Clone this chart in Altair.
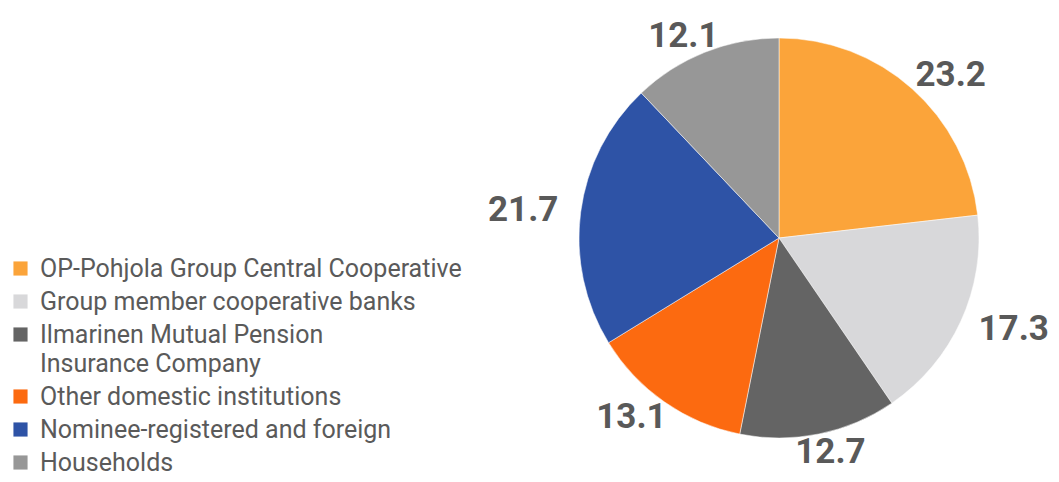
import altair as alt
import pandas as pd

categories = [
    "OP-Pohjola Group Central Cooperative",
    "Group member cooperative banks",
    "Ilmarinen Mutual Pension Insurance Company",
    "Other domestic institutions",
    "Nominee-registered and foreign",
    "Households",
]
values = [23.2, 17.3, 12.7, 13.1, 21.7, 12.1]
colors = ["#FBA43A", "#D8D8DA", "#646464", "#FC6A10", "#2E53A6", "#979797"]

df = pd.DataFrame({
    "category": categories,
    "value": values,
    "order": list(range(len(categories))),
    "label": [f"{v:.1f}" for v in values],
})

CX, CY = 771, 230

pie = alt.Chart(df).mark_arc(outerRadius=200, stroke="white", strokeWidth=0.5).encode(
    theta=alt.Theta("value:Q", stack=True),
    order=alt.Order("order:Q"),
    x=alt.value(CX),
    y=alt.value(CY),
    color=alt.Color(
        "category:N",
        sort=categories,
        scale=alt.Scale(domain=categories, range=colors),
        legend=alt.Legend(
            title=None,
            orient="none",
            legendX=0,
            legendY=248,
            symbolType="square",
            symbolSize=200,
            symbolStrokeWidth=0,
            labelFont="Roboto",
            labelFontSize=25,
            labelColor="#5a5a5a",
            labelLimit=700,
            labelBaseline="middle",
            rowPadding=7,
            symbolOffset=0,
            labelOffset=7,
            labelExpr="datum.label == 'Ilmarinen Mutual Pension Insurance Company' ? ['Ilmarinen Mutual Pension', 'Insurance Company'] : datum.label",
        ),
    ),
)

# labels outside the pie at each slice's mid-angle, on an ellipse that is
# wider than tall because the labels are wider than tall
text = (
    alt.Chart(df)
    .transform_joinaggregate(total="sum(value)")
    .transform_window(cum="sum(value)", sort=[alt.SortField("order")])
    .transform_calculate(
        mid="(datum.cum - datum.value / 2) / datum.total * 2 * PI",
    )
    .transform_calculate(
        px=f"{CX} + 258 * sin(datum.mid)",
        py=f"{CY} - 218 * cos(datum.mid)",
    )
    .mark_text(font="Roboto", fontSize=35, fontWeight="bold", color="#595959")
    .encode(
        x=alt.X("px:Q", scale=None),
        y=alt.Y("py:Q", scale=None),
        text="label:N",
    )
)

chart = (
    (pie + text)
    .properties(
        width=1043,
        height=466,
        padding=0,
        autosize=alt.AutoSizeParams(type="none"),
    )
    .configure(style={"guide-label": {"lineHeight": 29}})
    .configure_view(stroke=None)
)

chart.save("out.html", embed_options={"renderer": "svg", "actions": False})
